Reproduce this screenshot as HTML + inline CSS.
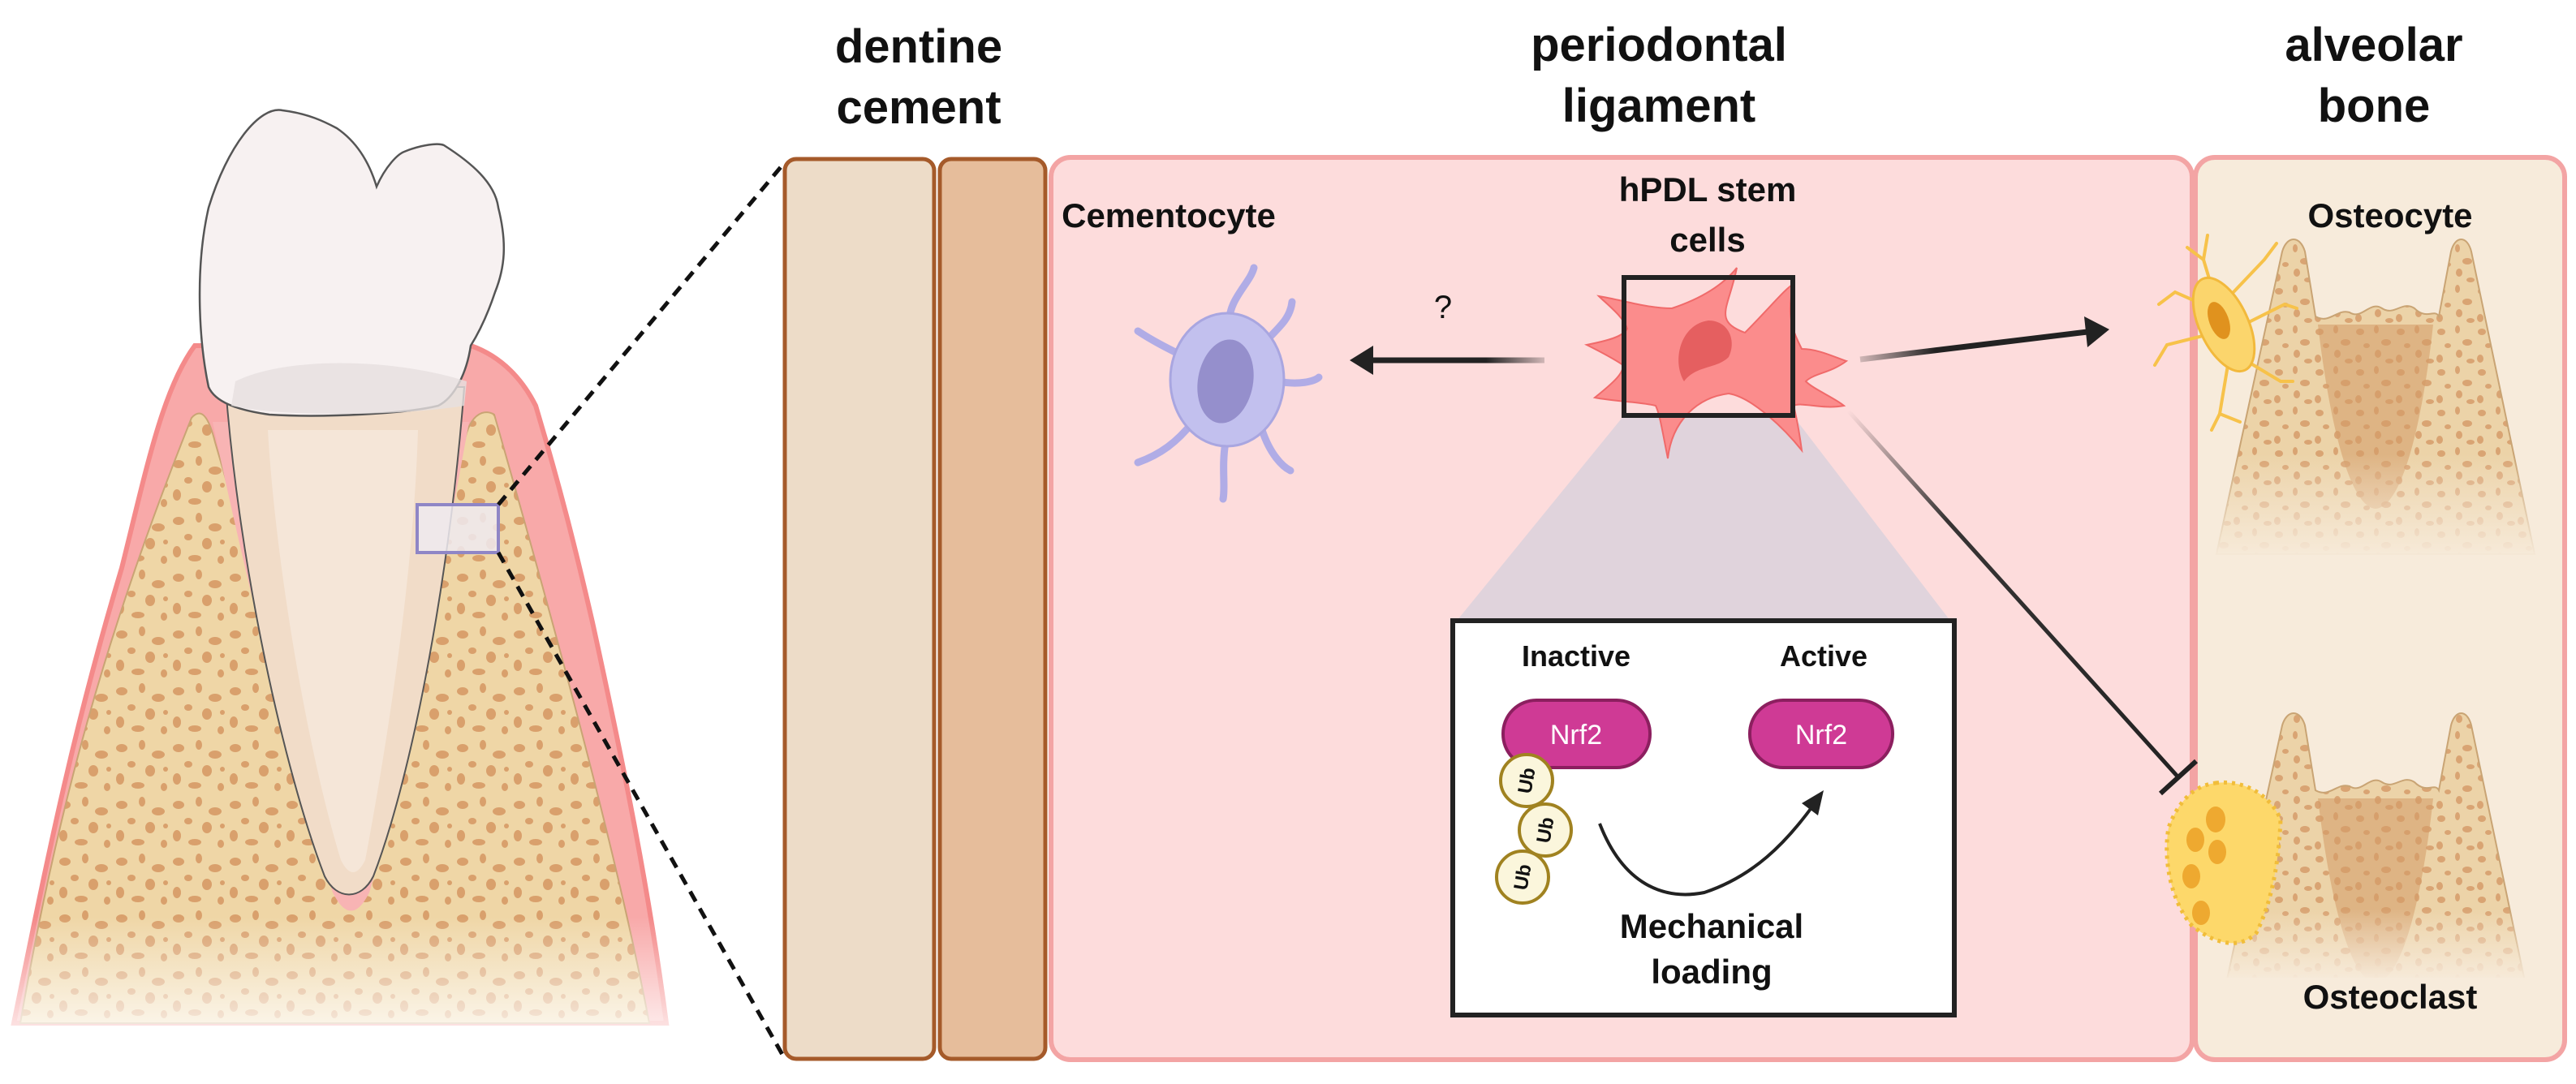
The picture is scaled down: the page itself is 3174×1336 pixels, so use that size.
<!DOCTYPE html>
<html><head><meta charset="utf-8"><style>
html,body{margin:0;padding:0;background:#fff;}
svg{display:block;}
text{font-family:"Liberation Sans",sans-serif;font-weight:bold;fill:#111;}
</style></head><body>
<svg width="3174" height="1336" viewBox="0 0 3174 1336" xmlns="http://www.w3.org/2000/svg">
<defs>
<pattern id="spots" width="70" height="70" patternUnits="userSpaceOnUse">
<rect width="70" height="70" fill="#efd6a6"/>
<ellipse cx="10" cy="12" rx="7" ry="5" fill="#d9a06c"/>
<ellipse cx="35" cy="8" rx="4" ry="6" fill="#d9a06c"/>
<ellipse cx="55" cy="20" rx="8" ry="5" fill="#d9a06c"/>
<ellipse cx="22" cy="32" rx="5" ry="4" fill="#d9a06c"/>
<ellipse cx="45" cy="40" rx="6" ry="7" fill="#d9a06c"/>
<ellipse cx="8" cy="50" rx="5" ry="7" fill="#d9a06c"/>
<ellipse cx="30" cy="58" rx="8" ry="4" fill="#d9a06c"/>
<ellipse cx="62" cy="60" rx="4" ry="5" fill="#d9a06c"/>
<ellipse cx="64" cy="38" rx="3" ry="3" fill="#d9a06c"/>
</pattern>
<pattern id="spots2" width="50" height="50" patternUnits="userSpaceOnUse">
<rect width="50" height="50" fill="#ecd3a8"/>
<ellipse cx="8" cy="9" rx="5" ry="4" fill="#d9a473"/>
<ellipse cx="28" cy="6" rx="3" ry="5" fill="#d9a473"/>
<ellipse cx="40" cy="22" rx="6" ry="4" fill="#d9a473"/>
<ellipse cx="16" cy="26" rx="4" ry="3" fill="#d9a473"/>
<ellipse cx="30" cy="36" rx="4" ry="5" fill="#d9a473"/>
<ellipse cx="6" cy="42" rx="4" ry="5" fill="#d9a473"/>
<ellipse cx="44" cy="45" rx="5" ry="3" fill="#d9a473"/>
</pattern>
<linearGradient id="fadeW" x1="0" y1="0" x2="0" y2="1">
<stop offset="0" stop-color="#fff" stop-opacity="0"/>
<stop offset="1" stop-color="#fff" stop-opacity="1"/>
</linearGradient>
<linearGradient id="fadeA" x1="0" y1="0" x2="0" y2="1">
<stop offset="0" stop-color="#f7ebdb" stop-opacity="0"/>
<stop offset="1" stop-color="#f7ebdb" stop-opacity="1"/>
</linearGradient>
<linearGradient id="inhib" x1="2277" y1="506" x2="2684" y2="958" gradientUnits="userSpaceOnUse">
<stop offset="0" stop-color="#222" stop-opacity="0"/>
<stop offset="0.3" stop-color="#222" stop-opacity="0.9"/>
<stop offset="1" stop-color="#222"/>
</linearGradient>
<linearGradient id="arrL" x1="1903" y1="0" x2="1663" y2="0" gradientUnits="userSpaceOnUse">
<stop offset="0" stop-color="#222" stop-opacity="0.2"/><stop offset="0.3" stop-color="#222"/></linearGradient>
<linearGradient id="arrR" x1="2292" y1="443" x2="2599" y2="406" gradientUnits="userSpaceOnUse">
<stop offset="0" stop-color="#222" stop-opacity="0.2"/><stop offset="0.3" stop-color="#222"/></linearGradient>
</defs>

<!-- Tooth illustration -->
<path d="M17,1261 C60,1050 90,900 150,700 C180,580 200,480 240,426 L580,426 C620,440 645,470 660,500 C690,600 710,680 730,767 C770,950 800,1100 821,1261 Z" fill="#f8a9a9" stroke="#f48a8a" stroke-width="6"/>
<path d="M25,1261 C70,1000 130,780 236,515 C245,505 255,505 265,545 L431,1116 L572,545 C580,505 600,505 609,511 C680,760 760,1050 800,1261 Z" fill="url(#spots)" stroke="#c9a474" stroke-width="2"/>
<path d="M262,520 C300,700 360,950 410,1100 C425,1130 440,1130 455,1100 C500,950 545,700 578,520 Z" fill="#f8b4b4"/>
<path d="M278,477 C295,700 350,950 400,1080 C415,1110 445,1110 460,1080 C510,950 555,700 572,477 Z" fill="#f1dcc8" stroke="#555" stroke-width="2"/>
<path d="M330,530 C340,700 380,930 420,1060 C430,1080 440,1080 450,1060 C480,900 510,700 515,530 Z" fill="#f5e6d8"/>
<path d="M257,477 C245,420 240,330 257,256 C280,180 320,130 348,136 C380,140 400,150 415,158 C440,175 455,200 464,230 C475,205 490,190 498,187 C520,178 540,176 547,179 C580,200 610,225 614,256 C625,300 622,330 610,360 C600,390 590,410 580,426 C575,460 560,490 540,500 C500,510 400,515 332,511 C290,505 265,495 257,477 Z" fill="#f7f1f1" stroke="#555" stroke-width="2.5"/>
<path d="M290,470 C350,440 480,440 575,470 L572,500 C500,512 350,515 285,500 Z" fill="#e6e0e0" opacity="0.8"/>
<rect x="0" y="1130" width="860" height="180" fill="url(#fadeW)"/>
<rect x="514" y="622" width="100" height="59" fill="#efeaf0" fill-opacity="0.85" stroke="#8f86c6" stroke-width="4"/>
<line x1="614" y1="622" x2="967" y2="200" stroke="#111" stroke-width="5" stroke-dasharray="14,10"/>
<line x1="614" y1="681" x2="967" y2="1305" stroke="#111" stroke-width="5" stroke-dasharray="14,10"/>

<!-- Headings -->
<g font-size="58" text-anchor="middle">
<text x="1132" y="77">dentine</text><text x="1132" y="152">cement</text>
<text x="2044" y="75">periodontal</text><text x="2044" y="150">ligament</text>
<text x="2925" y="75">alveolar</text><text x="2925" y="150">bone</text>
</g>

<!-- Dentine / cement -->
<rect x="967" y="196" width="184" height="1109" rx="14" fill="#eddcc8" stroke="#a55a2a" stroke-width="5"/>
<rect x="1158" y="196" width="130" height="1109" rx="14" fill="#e6bd9b" stroke="#a55a2a" stroke-width="5"/>

<!-- PDL box -->
<rect x="1295" y="194" width="1406" height="1112" rx="24" fill="#fddcdc" stroke="#f3a4a4" stroke-width="6"/>
<!-- Alveolar box -->
<rect x="2705" y="194" width="455" height="1112" rx="24" fill="#f7ebdb" stroke="#f3a4a4" stroke-width="6"/>

<!-- labels -->
<g font-size="42" text-anchor="middle">
<text x="1440" y="280">Cementocyte</text>
<text x="2104" y="248">hPDL stem</text><text x="2104" y="310">cells</text>
<text x="2945" y="280">Osteocyte</text>
</g>
<text x="1778" y="392" font-size="40" text-anchor="middle" style="font-weight:normal">?</text>

<!-- Cementocyte cell -->
<g stroke="#b0ace6" stroke-width="9" stroke-linecap="round" fill="none">
<path d="M1515,400 C1512,370 1540,350 1545,330"/>
<path d="M1560,420 C1580,400 1590,390 1592,372"/>
<path d="M1575,470 C1600,475 1620,470 1625,465"/>
<path d="M1555,530 C1565,560 1580,575 1590,580"/>
<path d="M1510,545 C1505,575 1510,600 1507,615"/>
<path d="M1470,520 C1450,545 1430,560 1402,570"/>
<path d="M1460,440 C1440,430 1420,420 1402,408"/>
</g>
<ellipse cx="1512" cy="468" rx="70" ry="82" fill="#c2c0ee" stroke="#a9a6e0" stroke-width="3"/>
<ellipse cx="1510" cy="470" rx="34" ry="52" fill="#958fcc" transform="rotate(10 1510 470)"/>

<!-- arrows -->
<line x1="1903" y1="444" x2="1690" y2="444" stroke="url(#arrL)" stroke-width="7"/>
<polygon points="1663,444 1692,426 1692,462" fill="#222"/>
<line x1="2292" y1="443" x2="2572" y2="409" stroke="url(#arrR)" stroke-width="7"/>
<polygon points="2599,406 2568,390 2572,428" fill="#222"/>
<line x1="2277" y1="506" x2="2684" y2="958" stroke="url(#inhib)" stroke-width="5"/>
<line x1="2662" y1="978" x2="2706" y2="938" stroke="#222" stroke-width="6"/>

<!-- trapezoid zoom shading -->
<polygon points="2001,512 2209,512 2403,765 1795,765" fill="#e0d3dc"/>

<!-- hPDL cell -->
<path d="M2140,330 C2130,380 2110,395 2150,410 C2180,380 2200,355 2210,350 C2200,390 2210,410 2220,430 C2240,430 2260,440 2275,445 C2255,460 2235,460 2225,470 C2235,480 2260,490 2272,500 C2245,505 2220,495 2210,500 C2215,520 2218,540 2220,555 C2200,530 2160,490 2130,485 C2090,490 2060,520 2055,565 C2048,530 2045,510 2040,500 C2020,495 1990,495 1965,490 C1990,470 2000,460 2000,450 C1985,440 1965,430 1955,425 C1980,420 2000,415 2005,405 C2000,390 1980,375 1970,365 C2000,370 2030,380 2060,380 C2090,370 2120,355 2140,330 Z" fill="#fb8c8c" stroke="#f06a6a" stroke-width="2"/>
<path d="M2105,395 C2130,395 2140,420 2130,440 C2115,455 2090,450 2075,470 C2060,445 2070,400 2105,395 Z" fill="#e55f60"/>
<rect x="2001" y="342" width="208" height="170" fill="none" stroke="#222" stroke-width="6"/>

<!-- inset box -->
<rect x="1790" y="765" width="618" height="486" fill="#fff" stroke="#222" stroke-width="6"/>
<g font-size="36" text-anchor="middle">
<text x="1942" y="821">Inactive</text><text x="2247" y="821">Active</text>
<text x="2109" y="1156" font-size="42">Mechanical</text><text x="2109" y="1212" font-size="42">loading</text>
</g>
<rect x="1852" y="863" width="181" height="83" rx="41" fill="#cf3a95" stroke="#8c1f5f" stroke-width="4"/>
<rect x="2156" y="863" width="176" height="83" rx="41" fill="#cf3a95" stroke="#8c1f5f" stroke-width="4"/>
<g font-size="34" text-anchor="middle">
<text x="1942" y="917" style="fill:#fff;font-weight:normal">Nrf2</text>
<text x="2244" y="917" style="fill:#fff;font-weight:normal">Nrf2</text>
</g>
<g fill="#fbf6dc" stroke="#a08220" stroke-width="4">
<circle cx="1881" cy="962" r="32"/><circle cx="1904" cy="1023" r="32"/><circle cx="1876" cy="1081" r="32"/>
</g>
<g font-size="24" text-anchor="middle">
<text x="0" y="8" transform="translate(1881 962) rotate(-80)">Ub</text>
<text x="0" y="8" transform="translate(1904 1023) rotate(-80)">Ub</text>
<text x="0" y="8" transform="translate(1876 1081) rotate(-80)">Ub</text>
</g>
<path d="M1971,1015 C2000,1090 2050,1110 2100,1100 C2160,1080 2200,1040 2236,990" fill="none" stroke="#222" stroke-width="4"/>
<polygon points="2247,974 2220,990 2240,1005" fill="#222"/>

<!-- top bone -->
<path d="M2731,683 L2812,310 C2818,290 2834,290 2840,310 L2853,390 C2870,400 2880,380 2895,385 C2910,395 2920,370 2935,380 C2950,390 2960,370 2975,380 C2990,395 3000,380 3005,390 L3020,310 C3025,290 3040,290 3045,310 L3123,683 Z" fill="url(#spots2)" stroke="#c9a474" stroke-width="2"/>
<path d="M2856,400 C2870,520 2895,625 2927,627 C2960,625 2985,520 2998,400 Z" fill="#d39a66" opacity="0.55"/>
<rect x="2725" y="560" width="405" height="130" fill="url(#fadeA)"/>
<rect x="2725" y="688" width="405" height="12" fill="#f7ebdb"/>
<!-- osteocyte -->
<g stroke="#f7c24a" stroke-width="4" fill="none" stroke-linecap="round">
<path d="M2730,370 L2715,320 L2720,290"/><path d="M2715,320 L2695,305"/><path d="M2725,380 L2680,360 L2660,375"/><path d="M2730,410 L2670,425 L2655,450"/>
<path d="M2752,360 L2790,320 L2805,300"/><path d="M2765,400 L2815,375 L2830,380"/><path d="M2760,440 L2810,470 L2825,470"/><path d="M2745,450 L2735,510 L2725,530"/><path d="M2735,510 L2760,520"/>
</g>
<ellipse cx="2740" cy="400" rx="30" ry="62" fill="#fbd56c" stroke="#f2b93c" stroke-width="3" transform="rotate(-25 2740 400)"/>
<ellipse cx="2734" cy="395" rx="12" ry="24" fill="#e0921e" transform="rotate(-20 2734 395)"/>

<!-- bottom bone -->
<path d="M2731,1267 L2812,894 C2818,874 2834,874 2840,894 L2853,974 C2870,984 2880,964 2895,969 C2910,979 2920,954 2935,964 C2950,974 2960,954 2975,964 C2990,979 3000,964 3005,974 L3020,894 C3025,874 3040,874 3045,894 L3123,1267 Z" fill="url(#spots2)" stroke="#c9a474" stroke-width="2"/>
<path d="M2856,984 C2870,1104 2895,1209 2927,1211 C2960,1209 2985,1104 2998,984 Z" fill="#d39a66" opacity="0.55"/>
<rect x="2720" y="1120" width="415" height="90" fill="url(#fadeA)"/>
<rect x="2720" y="1205" width="415" height="70" fill="#f7ebdb"/>
<text x="2945" y="1243" font-size="42" text-anchor="middle">Osteoclast</text>
<!-- osteoclast -->
<path d="M2730,965 C2770,960 2800,985 2810,1010 C2808,1060 2800,1110 2780,1150 C2760,1170 2730,1165 2700,1140 C2675,1110 2665,1060 2672,1020 C2685,985 2705,968 2730,965 Z" fill="#fdd86a" stroke="#f1bd3a" stroke-width="5" stroke-dasharray="4,6"/>
<ellipse cx="2730" cy="1010" rx="12" ry="16" fill="#eea930"/>
<ellipse cx="2705" cy="1035" rx="11" ry="15" fill="#eea930"/>
<ellipse cx="2732" cy="1050" rx="11" ry="15" fill="#eea930"/>
<ellipse cx="2700" cy="1080" rx="11" ry="15" fill="#eea930"/>
<ellipse cx="2712" cy="1125" rx="11" ry="15" fill="#eea930"/>
</svg>
</body></html>
